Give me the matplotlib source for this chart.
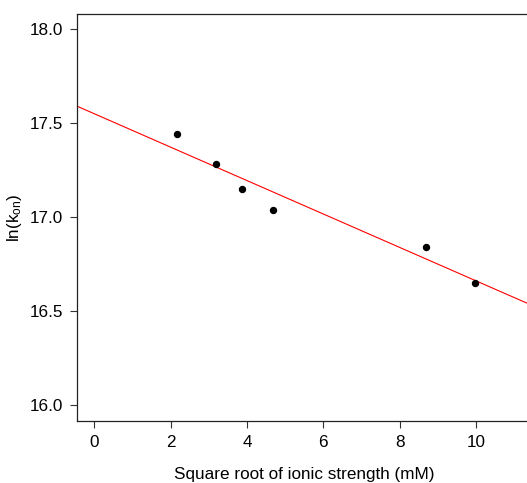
import numpy as np
import matplotlib
matplotlib.use("Agg")
import matplotlib.pyplot as plt

plt.rcParams['font.family'] = ['Liberation Sans', 'DejaVu Sans']
plt.rcParams['mathtext.fontset'] = 'custom'
plt.rcParams['mathtext.rm'] = 'Liberation Sans'
plt.rcParams['mathtext.it'] = 'Liberation Sans'

sqrt_ionic = [2.17, 3.19, 3.87, 4.69, 8.68, 9.98]
ln_kon = [17.44, 17.28, 17.15, 17.04, 16.84, 16.65]
xticks = [0, 2, 4, 6, 8, 10]
yticks = [16.0, 16.5, 17.0, 17.5, 18.0]

W, H = 527, 483
fig = plt.figure(figsize=(W/100, H/100), dpi=100)
left_px, right_px, top_px, bot_px = 77, 531, 14, 421
ax = fig.add_axes([left_px/W, 1-bot_px/H, (right_px-left_px)/W, (bot_px-top_px)/H])

x0 = -0.45
pxu = 38.2
ax.set_xlim(x0, x0 + (right_px-left_px)/pxu)
ax.set_ylim(15.915, 18.08)

slope, intercept = np.polyfit(sqrt_ionic, ln_kon, 1)
xl = np.array(ax.get_xlim())
ax.plot(xl, intercept + slope*xl, color='#ff0000', lw=0.8, zorder=2)
ax.plot(sqrt_ionic, ln_kon, 'o', color='black', ms=4.3, zorder=3)

fs = 12.3
ax.set_xticks(xticks)
ax.set_xticklabels([str(t) for t in xticks])
ax.set_yticks(yticks)
ax.set_yticklabels([f"{t:.1f}" for t in yticks])
ax.tick_params(direction='out', length=5, width=0.8, labelsize=fs, pad=5, color='#333333')
for s in ax.spines.values():
    s.set_linewidth(0.9)
    s.set_color('#222222')

ax.set_xlabel('Square root of ionic strength (mM)', fontsize=fs, labelpad=12)
ax.set_ylabel(r'ln(k$_{\mathrm{on}}$)', fontsize=fs, labelpad=4)

fig.savefig('out.png', dpi=100)
